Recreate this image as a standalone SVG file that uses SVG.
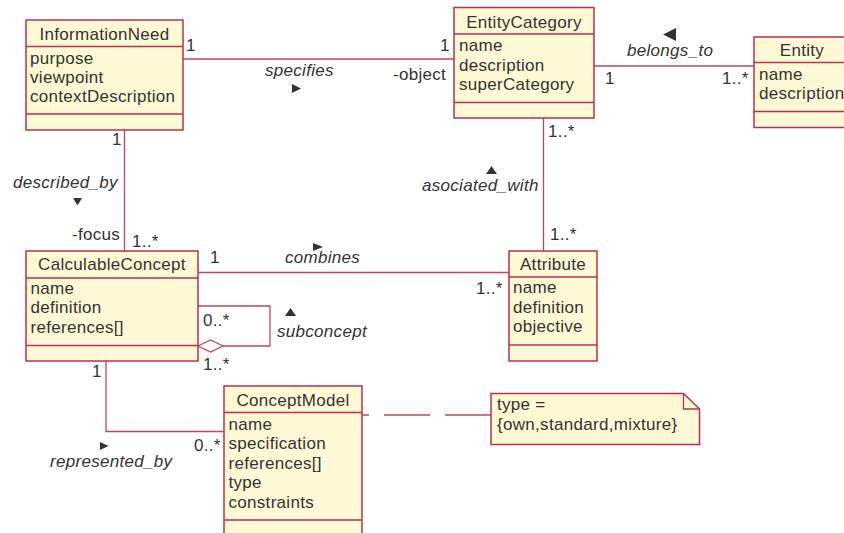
<svg xmlns="http://www.w3.org/2000/svg" width="844" height="533" viewBox="0 0 844 533">
<style>
.box{fill:#fff9d5;stroke:#b83050;stroke-width:1.5}
.div{stroke:#b83050;stroke-width:1.3;fill:none}
.ln{stroke:#c04560;stroke-width:1.3;fill:none}
.t{font-family:"Liberation Sans",Arial,sans-serif;font-size:17px;fill:#333;letter-spacing:0.3px}
.c{text-anchor:middle}
.i{font-style:italic}
.e{text-anchor:end}
.ar{fill:#333}
</style>
<rect width="844" height="533" fill="#fff"/>
<g id="connectors">
  <path class="ln" d="M183,59 H454"/>
  <path class="ln" d="M594,66 H754"/>
  <path class="ln" d="M543.5,118 V251"/>
  <path class="ln" d="M124.5,130 V251"/>
  <path class="ln" d="M198,272.5 H509"/>
  <path class="ln" d="M198,306 H270 V346 H223"/>
  <polygon points="198,346 210.5,340 223,346 210.5,352" fill="#fff" stroke="#c04560" stroke-width="1.3"/>
  <path class="ln" d="M106,361 V431.5 H224"/>
  <path class="ln" d="M491,415 H362" stroke-dasharray="46 15"/>
  <polygon class="ar" points="292,84 301,88.5 292,93"/>
  <polygon class="ar" points="676,28 663,34.5 676,41"/>
  <polygon class="ar" points="486,174 491.5,166 497,174"/>
  <polygon class="ar" points="73,198 82,198 77.5,205.5"/>
  <polygon class="ar" points="313,243 323,247 313,251"/>
  <polygon class="ar" points="285,316 290.5,308 296,316"/>
  <polygon class="ar" points="100,442 108.5,446 100,450"/>
  <text class="t" x="186" y="51">1</text>
  <text class="t" x="440" y="51">1</text>
  <text class="t" x="393" y="80">-object</text>
  <text class="t i" x="265" y="76">specifies</text>
  <text class="t i" x="627" y="56">belongs_to</text>
  <text class="t" x="605" y="84">1</text>
  <text class="t" x="722" y="84">1..*</text>
  <text class="t" x="548" y="137">1..*</text>
  <text class="t i" x="422" y="191">asociated_with</text>
  <text class="t" x="550" y="240">1..*</text>
  <text class="t" x="112" y="145">1</text>
  <text class="t i" x="13" y="188">described_by</text>
  <text class="t" x="72" y="240">-focus</text>
  <text class="t" x="132" y="247">1..*</text>
  <text class="t" x="210" y="263">1</text>
  <text class="t i" x="285" y="263">combines</text>
  <text class="t" x="476" y="294">1..*</text>
  <text class="t" x="203" y="326">0..*</text>
  <text class="t i" x="277" y="337">subconcept</text>
  <text class="t" x="203" y="370">1..*</text>
  <text class="t" x="92" y="377">1</text>
  <text class="t i" x="50" y="467">represented_by</text>
  <text class="t" x="194" y="451">0..*</text>
</g>
<g id="InformationNeed">
  <rect class="box" x="26" y="20" width="157" height="110"/>
  <path class="div" d="M26,46.5 H183 M26,114 H183"/>
  <text class="t c" x="104.5" y="39.5">InformationNeed</text>
  <text class="t" x="30" y="63.5">purpose</text>
  <text class="t" x="30" y="82.5">viewpoint</text>
  <text class="t" x="30" y="101.5">contextDescription</text>
</g>
<g id="EntityCategory">
  <rect class="box" x="454" y="7.5" width="140" height="110.5"/>
  <path class="div" d="M454,34 H594 M454,102.5 H594"/>
  <text class="t c" x="524" y="27.5">EntityCategory</text>
  <text class="t" x="459" y="51">name</text>
  <text class="t" x="459" y="70.5">description</text>
  <text class="t" x="459" y="90">superCategory</text>
</g>
<g id="Entity">
  <rect class="box" x="754" y="37" width="110" height="90.5"/>
  <path class="div" d="M754,62.5 H864 M754,111.5 H864"/>
  <text class="t c" x="802" y="56">Entity</text>
  <text class="t" x="759" y="80">name</text>
  <text class="t" x="759" y="98.5">description</text>
</g>
<g id="CalculableConcept">
  <rect class="box" x="26" y="251" width="172" height="110"/>
  <path class="div" d="M26,278 H198 M26,345.5 H198"/>
  <text class="t c" x="112" y="270">CalculableConcept</text>
  <text class="t" x="30.5" y="293.5">name</text>
  <text class="t" x="30.5" y="313">definition</text>
  <text class="t" x="30.5" y="332.5">references[]</text>
</g>
<g id="Attribute">
  <rect class="box" x="509" y="251" width="88" height="110"/>
  <path class="div" d="M509,277 H597 M509,345 H597"/>
  <text class="t c" x="553" y="269.5">Attribute</text>
  <text class="t" x="513" y="293">name</text>
  <text class="t" x="513" y="312.5">definition</text>
  <text class="t" x="513" y="332">objective</text>
</g>
<g id="ConceptModel">
  <rect class="box" x="224" y="386" width="138" height="160"/>
  <path class="div" d="M224,412.5 H362 M224,520 H362"/>
  <text class="t c" x="293" y="405.5">ConceptModel</text>
  <text class="t" x="228.5" y="429.5">name</text>
  <text class="t" x="228.5" y="449">specification</text>
  <text class="t" x="228.5" y="468.5">references[]</text>
  <text class="t" x="228.5" y="488">type</text>
  <text class="t" x="228.5" y="507.5">constraints</text>
</g>
<g id="note">
  <path class="box" d="M491,393.5 H683.5 L699.5,409 V444.5 H491 Z"/>
  <path class="div" d="M683.5,393.5 V409 H699.5" stroke-width="1"/>
  <text class="t" x="497" y="409.5">type =</text>
  <text class="t" x="497" y="430">{own,standard,mixture}</text>
</g>
</svg>
